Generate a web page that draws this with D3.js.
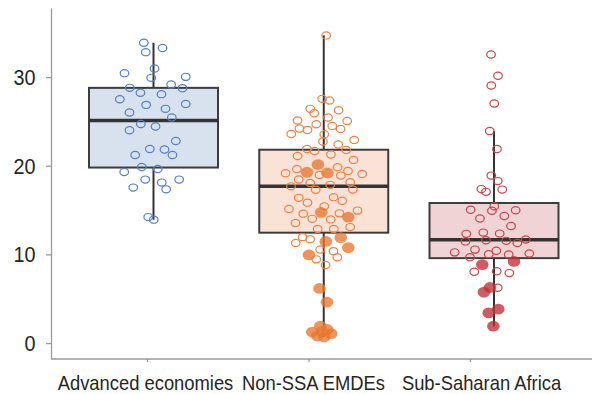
<!DOCTYPE html>
<html>
<head>
<meta charset="utf-8">
<script src="https://cdn.jsdelivr.net/npm/d3@7"></script>
<style>
  body { margin: 0; background: #fff; }
  text { font-family: "Liberation Sans", Arial, sans-serif; }
</style>
</head>
<body>
<svg id="chart" width="592" height="394"></svg>
<script>
// Group labels and y-axis ticks
const categories = ["Advanced economies", "Non-SSA EMDEs", "Sub-Saharan Africa"];
const yTicks = [0, 10, 20, 30];

// Box summaries per group
const q1 = [19.80, 12.45, 9.58];
const medians = [25.11, 17.68, 11.66];
const q3 = [28.79, 21.81, 15.80];
const whiskerLow = [13.92, 0.70, 1.90];
const whiskerHigh = [33.88, 34.71, 23.93];

// Country values (hollow markers) and horizontal jitter as a share of box width
const advValues = [33.88, 33.28, 32.82, 30.98, 30.45, 30.03, 29.92, 29.18, 28.79, 28.76, 28.23, 28.08,
  27.51, 26.87, 26.98, 26.42, 26.01, 25.45, 24.72, 24.43, 24.01, 22.80, 21.90, 21.83, 21.22, 21.22,
  19.86, 19.64, 19.30, 18.44, 18.44, 18.10, 17.54, 17.34, 14.21, 13.92];
const advJitter = [-0.075, 0.070, -0.060, 0.008, -0.225, 0.250, -0.018, 0.137, -0.184, 0.225, -0.101, 0.062,
  -0.261, -0.057, 0.250, 0.093, -0.186, 0.142, -0.098, 0.016, -0.186, 0.173, -0.029, 0.085, -0.142, 0.147,
  -0.091, 0.033, -0.227, -0.064, 0.199, 0.064, -0.157, 0.098, -0.041, 0.002];

const emdeValues = [34.71, 27.55, 27.37, 26.42, 25.93, 26.27, 25.45, 25.11, 25.06, 24.69, 24.50, 24.20,
  24.05, 24.16, 23.59, 23.56, 22.73, 22.92, 22.40, 21.90, 21.67, 21.79, 21.11, 21.27, 20.66, 19.64,
  19.83, 19.41, 19.15, 18.96, 18.89, 19.07, 18.45, 18.06, 18.14, 17.68, 17.85, 17.29, 17.31, 16.38,
  15.84, 16.46, 16.05, 15.42, 15.12, 14.94, 14.60, 14.63, 14.01, 13.95, 13.54, 13.08, 12.88, 12.88,
  11.95, 11.72, 11.28, 10.56, 10.37, 9.44, 9.68, 8.81];
const emdeJitter = [0.019, -0.012, 0.045, -0.105, -0.074, 0.115, 0.033, -0.203, 0.182, -0.058, 0.066, -0.188,
  -0.126, 0.130, -0.252, 0.004, -0.006, 0.236, 0.112, -0.130, -0.071, 0.174, -0.203, 0.056, 0.231, -0.208,
  0.107, 0.188, -0.296, -0.033, 0.133, 0.298, -0.194, -0.105, 0.205, -0.254, 0.050, -0.062, 0.225, -0.194,
  -0.126, 0.076, 0.143, 0.004, -0.270, 0.262, -0.159, 0.122, -0.089, 0.054, -0.219, 0.205, -0.047, 0.078,
  -0.164, -0.105, -0.217, -0.027, 0.075, -0.058, 0.105, 0.014];
// Highlighted countries (filled markers)
const emdeHiValues = [20.14, 19.27, 19.19, 14.75, 14.21, 11.47, 11.90, 10.77, 9.94, 6.16, 4.61,
  1.92, 1.24, 0.79, 0.68, 1.07, 1.53, 1.30];
const emdeHiJitter = [-0.045, -0.130, 0.029, -0.019, 0.190, 0.016, 0.132, 0.190, -0.115, -0.033, 0.025,
  -0.027, -0.089, -0.050, 0.004, 0.058, 0.027, -0.012];

const ssaValues = [32.56, 30.15, 29.06, 27.03, 23.93, 21.90, 18.89, 18.27, 17.37, 17.06, 17.31, 15.42,
  15.03, 14.92, 14.99, 14.33, 14.05, 13.20, 12.32, 12.46, 12.35, 11.47, 11.60, 11.53, 11.28, 11.69,
  10.23, 10.54, 10.42, 9.69, 10.03, 10.00, 10.11, 8.05, 8.11, 7.89, 6.24];
const ssaJitter = [-0.023, 0.031, -0.021, 0.002, -0.033, 0.023, -0.021, 0.029, -0.098, -0.062, 0.064, 0.002,
  -0.181, -0.016, 0.168, 0.080, -0.109, 0.132, -0.215, -0.083, 0.044, -0.221, -0.062, 0.095, 0.181, 0.246,
  -0.305, -0.147, 0.018, -0.186, -0.041, 0.114, 0.274, -0.153, 0.021, 0.119, 0.029];
const ssaHiValues = [8.84, 9.21, 6.27, 5.74, 3.40, 3.82, 1.90];
const ssaHiJitter = [-0.091, 0.155, -0.031, -0.078, -0.041, 0.033, -0.005];

// Colours per group
const strokeColors = ["#5283c2", "#ee8245", "#c4474b"];
const boxFills = ["#d8e1ee", "#fae2d6", "#f0d4d5"];
const hiFills = ["#4f7fbf", "#e9772f", "#bf2f36"];

const groups = categories.map((c, i) => ({
  name: c, i,
  q1: q1[i], med: medians[i], q3: q3[i], lo: whiskerLow[i], hi: whiskerHigh[i]
}));
const hollow = [
  advValues.map((v, k) => ({ g: 0, v, j: advJitter[k] })),
  emdeValues.map((v, k) => ({ g: 1, v, j: emdeJitter[k] })),
  ssaValues.map((v, k) => ({ g: 2, v, j: ssaJitter[k] }))
].flat();
const filled = [
  emdeHiValues.map((v, k) => ({ g: 1, v, j: emdeHiJitter[k] })),
  ssaHiValues.map((v, k) => ({ g: 2, v, j: ssaHiJitter[k] }))
].flat();

const svg = d3.select("#chart");
const boxW = 129;
const narrow = 0.875;   // horizontal squeeze for a condensed label face

const y = d3.scaleLinear().domain([-1.8, 37.8]).range([359, 8]);
const xBox = d3.scalePoint().domain(categories).range([153.5, 494]);
const xAxisScale = d3.scalePoint().domain(categories).range([147, 470]);
const xLabel = d3.scalePoint().domain(categories).range([145, 481]);
const jit = d3.scaleLinear().domain([-0.5, 0.5]).range([-boxW / 2, boxW / 2]);

// Y axis
const yAxis = svg.append("g")
  .attr("transform", "translate(51,0)")
  .call(d3.axisLeft(y).tickValues(yTicks).tickSize(5).tickSizeOuter(0));
yAxis.select(".domain").attr("stroke", "#9a9a9a").attr("stroke-width", 1.3);
yAxis.selectAll(".tick line").attr("stroke", "#9a9a9a").attr("stroke-width", 1.3);
yAxis.selectAll(".tick text")
  .attr("font-size", 22).attr("fill", "#262626").attr("font-family", null)
  .attr("x", 0).attr("dy", "0.34em")
  .attr("transform", "translate(-15.5,0) scale(0.9,1)");

// X axis
svg.append("line").attr("x1", 51).attr("x2", 592).attr("y1", 359).attr("y2", 359)
  .attr("stroke", "#9a9a9a").attr("stroke-width", 1.3);
const xAxis = svg.append("g")
  .attr("transform", "translate(0,359)")
  .call(d3.axisBottom(xAxisScale).tickSize(3));
xAxis.select(".domain").remove();
xAxis.selectAll(".tick line").attr("stroke", "#9a9a9a").attr("stroke-width", 1.3);
xAxis.selectAll(".tick text")
  .attr("font-size", 21).attr("fill", "#262626").attr("font-family", null)
  .attr("x", 0).attr("y", 0).attr("dy", null)
  .attr("transform", d => `translate(${xLabel(d) - xAxisScale(d)},30.5) scale(${narrow},1)`);

// Boxes with whiskers
const box = svg.append("g").selectAll("g").data(groups).join("g");
box.append("line")
  .attr("x1", d => xBox(d.name)).attr("x2", d => xBox(d.name))
  .attr("y1", d => y(d.hi)).attr("y2", d => y(d.q3))
  .attr("stroke", "#333").attr("stroke-width", 2);
box.append("line")
  .attr("x1", d => xBox(d.name)).attr("x2", d => xBox(d.name))
  .attr("y1", d => y(d.q1)).attr("y2", d => y(d.lo))
  .attr("stroke", "#333").attr("stroke-width", 2);
box.append("rect")
  .attr("x", d => xBox(d.name) - boxW / 2).attr("width", boxW)
  .attr("y", d => y(d.q3)).attr("height", d => y(d.q1) - y(d.q3))
  .attr("fill", d => boxFills[d.i]).attr("stroke", "#3d3d3d").attr("stroke-width", 2);
box.append("line")
  .attr("x1", d => xBox(d.name) - boxW / 2).attr("x2", d => xBox(d.name) + boxW / 2)
  .attr("y1", d => y(d.med)).attr("y2", d => y(d.med))
  .attr("stroke", "#333").attr("stroke-width", 3.5);

// Country markers
svg.append("g").selectAll("ellipse").data(hollow).join("ellipse")
  .attr("cx", d => xBox(categories[d.g]) + jit(d.j))
  .attr("cy", d => y(d.v))
  .attr("rx", 4.3).attr("ry", 3.6)
  .attr("fill", "none")
  .attr("stroke", d => strokeColors[d.g]).attr("stroke-width", 1.2);

svg.append("g").selectAll("ellipse").data(filled).join("ellipse")
  .attr("cx", d => xBox(categories[d.g]) + jit(d.j))
  .attr("cy", d => y(d.v))
  .attr("rx", 6.3).attr("ry", 5.4)
  .attr("fill", d => hiFills[d.g]).attr("fill-opacity", 0.78)
  .attr("stroke", "none");
</script>
</body>
</html>
